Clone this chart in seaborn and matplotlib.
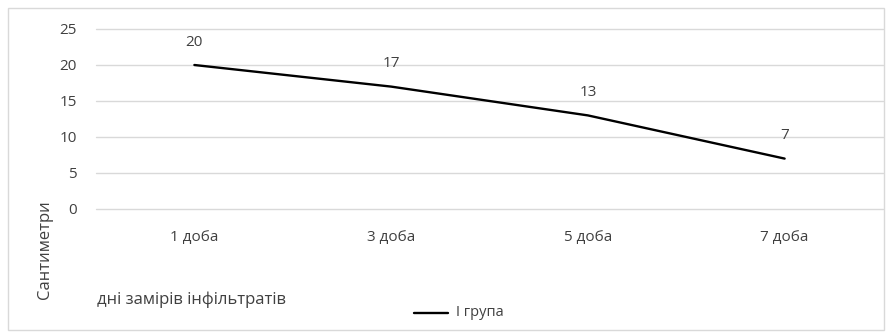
import matplotlib
matplotlib.use("Agg")
import matplotlib.pyplot as plt
import seaborn as sns
import pandas as pd
from matplotlib.patches import Rectangle
from matplotlib.lines import Line2D

categories = ["1 доба", "3 доба", "5 доба", "7 доба"]
values = [20, 17, 13, 7]
series_name = "І група"
y_ticks = [0, 5, 10, 15, 20, 25]

sns.set_theme(style="white")
plt.rcParams['font.family'] = ['Open Sans', 'DejaVu Sans']

W, H = 892, 336
fig = plt.figure(figsize=(W / 100, H / 100), dpi=100)
fig.patch.set_facecolor("white")

# outer chart border
fig.patches.append(Rectangle((8 / W, 1 - 330 / H), (884 - 8) / W, (330 - 8) / H,
                             transform=fig.transFigure, fill=False,
                             edgecolor="#d9d9d9", linewidth=1))

ax = fig.add_axes([96 / W, 1 - 209 / H, (883 - 96) / W, 180 / H])
df = pd.DataFrame({"day": categories, "cm": values})
sns.lineplot(data=df, x="day", y="cm", ax=ax, color="black", linewidth=1.7,
             sort=False, legend=False)

ax.set_xlim(-0.5, len(categories) - 0.5)
ax.set_ylim(0, 25)
ax.set_yticks(y_ticks)
ax.yaxis.grid(True, color="#d9d9d9", linewidth=1)
for gl in ax.get_ygridlines():
    gl.set_clip_on(False)
ax.xaxis.grid(False)
for s in ax.spines.values():
    s.set_visible(False)
ax.tick_params(axis="both", length=0, labelsize=11, colors="#404040")
ax.tick_params(axis="y", pad=14)
ax.tick_params(axis="x", pad=15)
ax.set_xlabel("")
ax.set_ylabel("")

for i, v in enumerate(values):
    ax.annotate(str(v), (i, v), xytext=(0, 11), textcoords="offset points",
                ha="center", va="bottom", fontsize=11, color="#404040")

fig.text(45 / W, 1 - 250 / H, "Сантиметри", rotation=90, ha="center", va="center",
         fontsize=12, color="#404040")
fig.text(97 / W, 1 - 300 / H, "дні замірів інфільтратів", ha="left", va="center",
         fontsize=12, color="#404040")

fig.lines.append(Line2D([414 / W, 448 / W], [1 - 313 / H, 1 - 313 / H],
                        transform=fig.transFigure, color="black", linewidth=1.7))
fig.text(456 / W, 1 - 313 / H, series_name, ha="left", va="center",
         fontsize=10.5, color="#404040")

fig.savefig("out.png", dpi=100, facecolor="white")
